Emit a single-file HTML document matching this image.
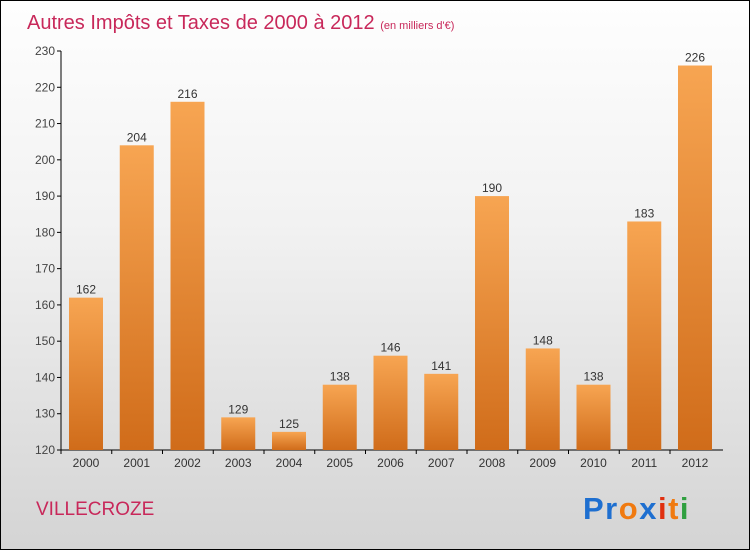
<!DOCTYPE html>
<html><head><meta charset="utf-8"><style>
body{margin:0;}
#wrap{position:relative;width:748px;height:548px;border:1px solid #000;background:linear-gradient(#fefefe,#f2f2f2 40%,#d4d4d4);overflow:hidden;font-family:"Liberation Sans",sans-serif;}
</style></head><body>
<div id="wrap">
<svg id="c" width="748" height="548">
<defs><linearGradient id="g" x1="0" y1="0" x2="0" y2="1"><stop offset="0" stop-color="#f7a552"/><stop offset="1" stop-color="#d06c1a"/></linearGradient></defs>
<text x="26" y="28" font-size="20" fill="#c8285a">Autres Impôts et Taxes de 2000 à 2012 <tspan font-size="11">(en milliers d'€)</tspan></text>
<text x="35" y="514" font-size="19" fill="#c8285a">VILLECROZE</text>
<text x="582" y="518" font-size="31" font-weight="bold" letter-spacing="1.5"><tspan fill="#1e6fd0">Pr</tspan><tspan fill="#f07a10">o</tspan><tspan fill="#1e6fd0">x</tspan><tspan fill="#e03010">i</tspan><tspan fill="#f07a10">t</tspan><tspan fill="#30a040">i</tspan></text>
<g id="plot"></g>
</svg>
</div>
<script>
const categories=["2000","2001","2002","2003","2004","2005","2006","2007","2008","2009","2010","2011","2012"];
const values=[162,204,216,129,125,138,146,141,190,148,138,183,226];
const ticks=[120,130,140,150,160,170,180,190,200,210,220,230];
const ns="http://www.w3.org/2000/svg";
const g=document.getElementById('plot');
const y=v=>449-(v-120)*(399/110);
const x=i=>85+i*50.75;
function mk(t,a,txt){const e=document.createElementNS(ns,t);for(const k in a)e.setAttribute(k,a[k]);if(txt!==undefined)e.textContent=txt;g.appendChild(e);return e;}
let ax=mk('line',{x1:60,y1:y(230),x2:60,y2:449,stroke:'#000'});


let bx=mk('line',{x1:60,y1:449,x2:722,y2:449,stroke:'#000'});


ticks.forEach(t=>{
 let l=mk('line',{x1:56,y1:y(t),x2:60,y2:y(t),stroke:'#000'});
 
 
 let tx=mk('text',{x:54,y:y(t)+4,'font-size':12,fill:'#444','text-anchor':'end'},t);
 
 
});
categories.forEach((c,i)=>{
 let b=mk('rect',{x:x(i)-17,y:y(values[i]),width:34,height:449-y(values[i]),fill:'url(#g)'});
 
 
 let v=mk('text',{x:x(i),y:y(values[i])-4,'font-size':12,fill:'#333','text-anchor':'middle'},values[i]);
 
 
 let t=mk('line',{x1:x(i)-25,y1:449,x2:x(i)-25,y2:453,stroke:'#000'});
 
 
 let lb=mk('text',{x:x(i),y:466,'font-size':12,fill:'#333','text-anchor':'middle'},c);
 
 
});
</script>
</body></html>
